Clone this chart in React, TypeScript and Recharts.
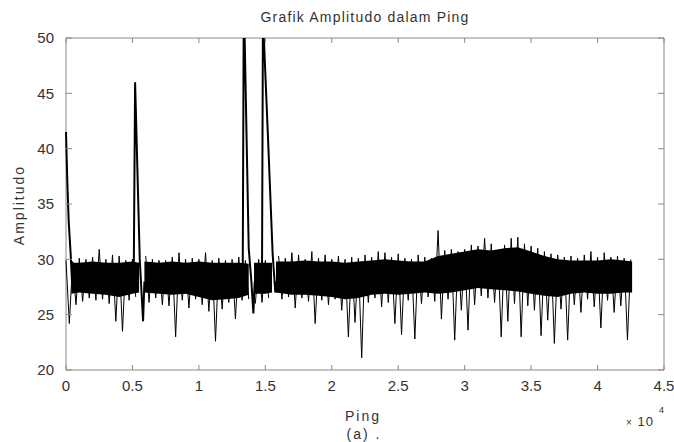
import { ComposedChart, Area, Line, XAxis, YAxis, ReferenceArea, ReferenceLine } from "recharts";

// axis ticks
const xTicks = [0, 5000, 10000, 15000, 20000, 25000, 30000, 35000, 40000, 45000];
const xTickLabels = ["0", "0.5", "1", "1.5", "2", "2.5", "3", "3.5", "4", "4.5"];
const yTicks = [20, 25, 30, 35, 40, 45, 50];

// noise envelope: peaks every 500 pings (0..42500), dips in between (250..42250)
const peakStep = 500;
const peakVals = [
  29.9, 29.8, 30.1, 30.0, 30.2, 30.9, 30.0, 30.4, 30.3, 29.9,
  30.0, null, 30.3, 30.0, 29.9, 29.9, 30.2, 30.6, 30.0, 30.1,
  30.0, 30.6, 29.9, 30.1, 29.9, 30.0, 30.2, 29.9, null, 30.0,
  29.9, null, 30.3, 30.1, 30.6, 30.4, 30.0, 30.7, 30.1, 30.4,
  30.0, 30.3, 30.0, 30.2, 30.1, 30.4, 30.2, 30.7, 30.6, 30.2,
  30.5, 30.1, 30.0, 30.4, 30.2, 30.1, 32.6, 30.8, 30.9, 30.7,
  30.9, 31.3, 31.2, 31.9, 31.4, 30.8, 31.3, 31.9, 32.0, 31.4,
  31.2, 31.0, 30.7, 30.5, 30.4, 30.2, 30.3, 30.1, 30.4, 30.7,
  30.2, 30.6, 30.2, 30.3, 30.1, 30.0,
];
const dipVals = [
  24.2, 25.9, 26.2, 26.5, 26.3, 26.4, 26.0, 24.4, 23.5, 26.3,
  26.6, null, 26.1, 26.5, 25.9, 25.8, 23.0, 26.3, 25.6, 26.4,
  25.9, 25.3, 22.6, 25.5, 26.1, 24.6, 26.3, 26.4, 26.0, 26.1,
  26.5, null, 26.4, 26.6, 25.6, 26.5, 26.2, 24.2, 26.3, 25.9,
  26.4, 25.4, 23.0, 24.3, 21.1, 26.1, 26.5, 25.7, 26.1, 24.2,
  23.2, 26.3, 22.8, 26.0, 26.6, 26.2, 24.6, 26.4, 22.7, 25.4,
  23.6, 25.9, 26.7, 26.5, 26.1, 23.0, 24.4, 26.0, 23.0, 25.8,
  25.4, 23.1, 24.5, 22.4, 25.5, 22.7, 25.9, 25.2, 26.4, 25.7,
  23.8, 26.3, 25.2, 25.8, 22.7,
];

// dense core of the band (null = white gap after a burst)
const coreX = [
  400, 1000, 2000, 3000, 4000, 5000, 5500, 5700, 5900, 7000, 8000, 9000, 10000, 11000, 12000,
  13000, 13750, 13900, 14150, 15000, 15500, 15650, 15800, 17000, 18000, 19000, 20000, 21000,
  22000, 23000, 24000, 25000, 26000, 27000, 28000, 29000, 30000, 31000, 32000, 33000, 34000,
  35000, 36000, 37000, 38000, 39000, 40000, 41000, 42000, 42600,
];
const coreLow = [
  26.9, 27.0, 26.9, 26.8, 26.6, 26.9, 27.0, null, 27.0, 26.9, 26.8, 26.9, 26.6, 26.3, 26.4,
  26.5, 26.8, null, 26.9, 26.9, 27.0, null, 27.0, 26.8, 26.8, 26.7, 26.6, 26.4,
  26.5, 26.8, 26.9, 26.8, 26.9, 27.0, 26.9, 27.0, 27.2, 27.4, 27.3, 27.2, 27.1,
  26.9, 26.7, 26.6, 26.9, 27.0, 26.9, 26.9, 27.0, 27.0,
];
const coreHigh = [
  29.7, 29.7, 29.8, 29.7, 29.7, 29.8, 29.7, null, 29.8, 29.7, 29.8, 29.7, 29.8, 29.7, 29.7,
  29.7, 29.6, null, 29.7, 29.7, 29.7, null, 29.8, 29.8, 29.9, 29.8, 29.8, 29.7,
  29.8, 29.9, 30.0, 29.9, 29.8, 29.8, 30.3, 30.5, 30.7, 30.9, 30.8, 31.0, 31.1,
  30.7, 30.3, 30.0, 29.9, 29.9, 29.9, 30.0, 29.9, 29.8,
];

// large bursts (start, 0.52, 1.34, 1.48 x10^4)
const burstX = [
  0, 100, 200, 350, 450, 460,
  5100, 5200, 5550, 5800, 5900, 5950,
  13300, 13380, 13750, 13950, 14100, 14200, 14250,
  14750, 14820, 15200, 15550, 15750, 15850,
];
const burstVal = [
  41.5, 37, 33.5, 30.5, 28, null,
  29, 46, 30, 24.4, 28, null,
  29, 54, 31, 28, 25.1, 28, null,
  29, 52, 41, 30.5, 27, 28,
];

const noiseData: { ping: number; amp: number | null }[] = [];
peakVals.forEach((p, i) => {
  noiseData.push({ ping: i * peakStep, amp: p });
  if (i < dipVals.length) noiseData.push({ ping: i * peakStep + peakStep / 2, amp: dipVals[i] });
});
const coreData = coreX.map((ping, i) => ({
  ping,
  band: coreLow[i] == null ? null : [coreLow[i], coreHigh[i]],
}));
const burstData = burstX.map((ping, i) => ({ ping, amp: burstVal[i] }));

const font = '"Liberation Sans", Arial, sans-serif';
const ink = "#333";
const frame = "#8a8a8a";

const txt = (x: number, y: number, extra: React.CSSProperties = {}): React.CSSProperties => ({
  position: "absolute",
  left: x,
  top: y,
  transform: "translate(-50%, -50%)",
  whiteSpace: "nowrap",
  fontFamily: font,
  color: ink,
  fontSize: 14,
  letterSpacing: 1.2,
  ...extra,
});

export default function App() {
  return (
    <div style={{ position: "absolute", left: 0, top: 0, width: 674, height: 442, background: "#fff" }}>
      <ComposedChart width={674} height={442} margin={{ top: 38, right: 10, bottom: 42, left: 26 }}>
        <XAxis
          dataKey="ping"
          type="number"
          domain={[0, 45000]}
          ticks={xTicks}
          interval={0}
          tickFormatter={(v: number) => xTickLabels[xTicks.indexOf(v)]}
          axisLine={false}
          tickLine={false}
          tickSize={0}
          tickMargin={10}
          height={30}
          tick={{ fill: ink, fontSize: 15, fontFamily: font }}
        />
        <YAxis
          type="number"
          domain={[20, 50]}
          ticks={yTicks}
          interval={0}
          allowDataOverflow
          axisLine={false}
          tickLine={false}
          tickSize={0}
          tickMargin={12}
          width={40}
          tick={{ fill: ink, fontSize: 15, fontFamily: font }}
        />
        <Area
          data={coreData}
          dataKey="band"
          type="linear"
          stroke="none"
          fill="#000"
          fillOpacity={1}
          dot={false}
          activeDot={false}
          isAnimationActive={false}
        />
        <Line
          data={noiseData}
          dataKey="amp"
          type="linear"
          stroke="#000"
          strokeWidth={1}
          dot={false}
          activeDot={false}
          isAnimationActive={false}
        />
        <Line
          data={burstData}
          dataKey="amp"
          type="linear"
          stroke="#000"
          strokeWidth={2}
          dot={false}
          activeDot={false}
          isAnimationActive={false}
        />
        <ReferenceArea x1={0} x2={45000} y1={20} y2={50} fill="none" stroke={frame} strokeWidth={1} />
        {xTicks.map((t) => (
          <ReferenceLine key={"b" + t} segment={[{ x: t, y: 20 }, { x: t, y: 20.45 }]} stroke={frame} />
        ))}
        {xTicks.map((t) => (
          <ReferenceLine key={"t" + t} segment={[{ x: t, y: 50 }, { x: t, y: 49.55 }]} stroke={frame} />
        ))}
        {yTicks.map((t) => (
          <ReferenceLine key={"l" + t} segment={[{ x: 0, y: t }, { x: 450, y: t }]} stroke={frame} />
        ))}
        {yTicks.map((t) => (
          <ReferenceLine key={"r" + t} segment={[{ x: 45000, y: t }, { x: 44550, y: t }]} stroke={frame} />
        ))}
      </ComposedChart>
      <div style={txt(365, 17)}>Grafik Amplitudo dalam Ping</div>
      <div style={txt(19, 205, { transform: "translate(-50%, -50%) rotate(-90deg)", letterSpacing: 2 })}>Amplitudo</div>
      <div style={txt(363, 416, { letterSpacing: 2 })}>Ping</div>
      <div style={txt(364, 434, { letterSpacing: 2 })}>(a) .</div>
      <div style={txt(640, 421, { fontSize: 13, letterSpacing: 1 })}>
        <span style={{ fontSize: 10 }}>×</span> 10
      </div>
      <div style={txt(662, 410, { fontSize: 9 })}>4</div>
    </div>
  );
}
